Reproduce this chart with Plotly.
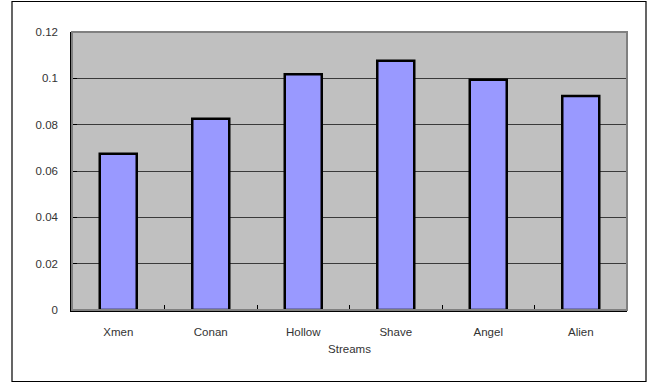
import plotly.graph_objects as go

streams = ["Xmen", "Conan", "Hollow", "Shave", "Angel", "Alien"]
values = [0.0674, 0.0825, 0.1018, 0.1076, 0.0994, 0.0924]
y_ticks = [0, 0.02, 0.04, 0.06, 0.08, 0.1, 0.12]
y_tick_text = ["0", "0.02", "0.04", "0.06", "0.08", "0.1", "0.12"]

W, H = 659, 383
L, R, T, B = 72, 32, 32, 73
pw, ph = W - L - R, H - T - B

font = dict(family="Liberation Sans", size=11.5, color="#333333")

fig = go.Figure(go.Bar(
    x=streams, y=values, width=0.4,
    marker=dict(color="#9999FF", line=dict(color="#000000", width=2.5)),
))

# outer chart frame
fig.add_shape(type="rect", xref="paper", yref="paper",
              x0=(12 - L) / pw, x1=(646 - L) / pw,
              y0=(H - B - 381.5) / ph, y1=(H - B - 1.5) / ph,
              line=dict(color="#000000", width=1.2), layer="below")
# plot area border
fig.add_shape(type="rect", xref="paper", yref="paper", x0=0, x1=1, y0=0, y1=1,
              line=dict(color="#808080", width=2), layer="above")

fig.update_layout(
    width=W, height=H,
    margin=dict(l=L, r=R, t=T, b=B),
    paper_bgcolor="white", plot_bgcolor="#C0C0C0",
    showlegend=False, font=font,
    xaxis=dict(
        range=[-0.5, 5.5], tickson="boundaries", ticks="inside", ticklen=5,
        tickcolor="#000000", showline=True, linecolor="#000000", linewidth=1.5,
        showgrid=False, tickfont=font, ticklabelstandoff=10,
        title=dict(text="Streams", font=font, standoff=8),
    ),
    yaxis=dict(
        range=[0, 0.12], tickvals=y_ticks, ticktext=y_tick_text,
        ticks="inside", ticklen=5, tickcolor="#000000",
        showline=True, linecolor="#000000", linewidth=1.5,
        showgrid=True, gridcolor="#3a3a3a", gridwidth=1, zeroline=False,
        tickfont=font, ticklabelstandoff=10,
    ),
)

fig.write_html("out.html")
